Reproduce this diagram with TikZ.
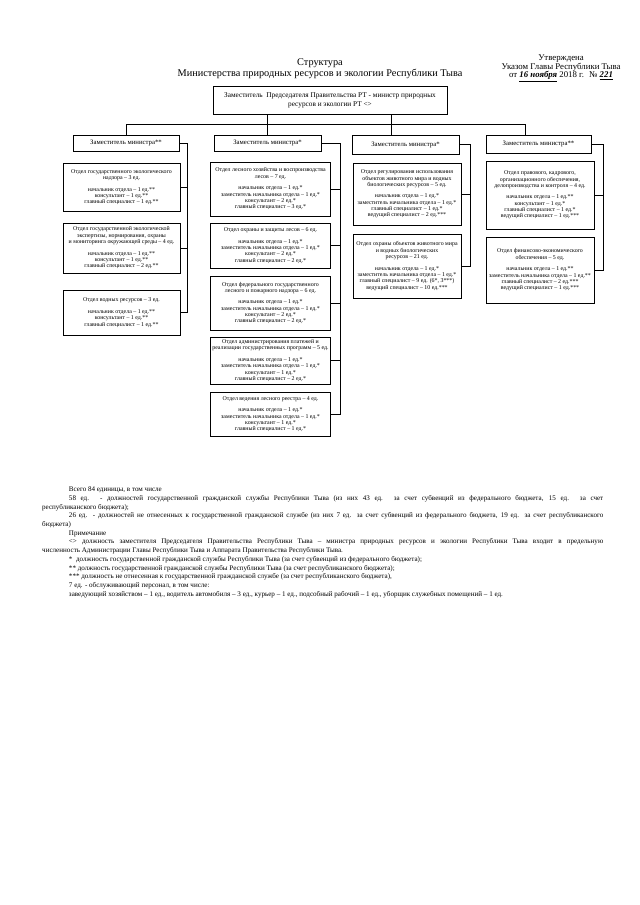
\documentclass[tikz,border=0pt]{standalone}
\usepackage{fontspec}
\setmainfont{Liberation Serif}
\usepackage{tikz}
\usetikzlibrary{positioning}

\begin{document}
\begin{tikzpicture}[
  x=0.328125mm, y=-0.328125mm,
  chief/.style={draw, align=center, font=\fontsize{6.8}{8.4}\selectfont, inner sep=1pt},
  deputy/.style={draw, align=center, font=\fontsize{6.3}{7}\selectfont, inner sep=1pt},
  dept/.style={draw, align=center, font=\fontsize{5.5}{5.9}\selectfont, inner sep=1pt},
  link/.style={line width=0.5pt}
]
\useasboundingbox (0,0) rectangle (640,905);

% --- Heading ---
\node[font=\fontsize{9.6}{10.2}\selectfont, align=center] (title) at (320, 69) {Структура\\Министерства природных ресурсов и экологии Республики Тыва};
\node[font=\fontsize{8.2}{8}\selectfont, align=center] (approved) at (561, 68.5) {Утверждена\\Указом Главы Республики Тыва\\от \underline{\textbf{\textit{16 ноября}}} 2018 г. \ № \underline{\textbf{\textit{221}}}};

% --- Minister ---
\node[chief, minimum width=7.68cm, minimum height=0.92cm] (top) at (330, 100) {Заместитель \ Председателя Правительства РТ - министр природных\\ресурсов и экологии РТ <>};

% --- Deputies ---
\node[deputy, minimum width=3.48cm, minimum height=0.525cm] (h1) at (126, 143) {Заместитель министра**};
\node[deputy, minimum width=3.51cm, minimum height=0.525cm] (h2) at (267.5, 143) {Заместитель министра*};
\node[deputy, minimum width=3.51cm, minimum height=0.62cm] (h3) at (405.5, 144.5) {Заместитель министра*};
\node[deputy, minimum width=3.45cm, minimum height=0.59cm] (h4) at (538.5, 144) {Заместитель министра**};

\coordinate (j3) at (391, 124);
\coordinate (j4) at (525, 124);
\draw[link] (h1.north) -- (h1.north |- j4) -- (j4) -- (h4.north -| j4);
\draw[link] (top.south -| h2.north) -- (h2.north);
\draw[link] (top.south -| j3) -- (h3.north -| j3);

% --- Column 1 ---
\node[dept, minimum width=3.84cm, minimum height=1.575cm] (d11) at (121.5, 187) {Отдел государственного экологического\\надзора – 3 ед.\\[5pt]начальник отдела – 1 ед.**\\консультант – 1 ед.**\\главный специалист – 1 ед.**};
\node[dept, minimum width=3.84cm, minimum height=1.64cm] (d12) at (121.5, 248) {Отдел государственной экологической\\экспертизы, нормирования, охраны\\и мониторинга окружающей среды – 4 ед.\\[5pt]начальник отдела – 1 ед.**\\консультант – 1 ед.**\\главный специалист – 2 ед.**};
\node[dept, minimum width=3.84cm, minimum height=1.48cm] (d13) at (121.5, 312.5) {Отдел водных ресурсов – 3 ед.\\[5pt]начальник отдела – 1 ед.**\\консультант – 1 ед.**\\главный специалист – 1 ед.**};

\coordinate (b1) at (187, 0);
\draw[link] (h1.east) -- (h1.east -| b1) -- (d13.east -| b1) -- (d13.east);
\foreach \d in {d11, d12} \draw[link] (\d.east) -- (\d.east -| b1);

% --- Column 2 ---
\node[dept, minimum width=3.94cm, minimum height=1.77cm] (d21) at (270.5, 189) {Отдел лесного хозяйства и воспроизводства\\лесов – 7 ед.\\[5pt]начальник отдела – 1 ед.*\\заместитель начальника отдела – 1 ед.*\\консультант – 2 ед.*\\главный специалист – 3 ед.*};
\node[dept, minimum width=3.94cm, minimum height=1.48cm] (d22) at (270.5, 245.5) {Отдел охраны и защиты лесов – 6 ед.\\[5pt]начальник отдела – 1 ед.*\\заместитель начальника отдела – 1 ед.*\\консультант – 2 ед.*\\главный специалист – 2 ед.*};
\node[dept, minimum width=3.94cm, minimum height=1.77cm] (d23) at (270.5, 303) {Отдел федерального государственного\\лесного и пожарного надзора – 6 ед.\\[5pt]начальник отдела – 1 ед.*\\заместитель начальника отдела – 1 ед.*\\консультант – 2 ед.*\\главный специалист – 2 ед.*};
\node[dept, minimum width=3.94cm, minimum height=1.54cm] (d24) at (270.5, 360.5) {Отдел администрирования платежей и\\реализации государственных программ – 5 ед.\\[5pt]начальник отдела – 1 ед.*\\заместитель начальника отдела – 1 ед.*\\консультант – 1 ед.*\\главный специалист – 2 ед.*};
\node[dept, minimum width=3.94cm, minimum height=1.44cm] (d25) at (270.5, 414) {Отдел ведения лесного реестра – 4 ед.\\[5pt]начальник отдела – 1 ед.*\\заместитель начальника отдела – 1 ед.*\\консультант – 1 ед.*\\главный специалист – 1 ед.*};

\coordinate (b2) at (340, 0);
\draw[link] (h2.east) -- (h2.east -| b2) -- (d25.east -| b2) -- (d25.east);
\foreach \d in {d21, d22, d23, d24} \draw[link] (\d.east) -- (\d.east -| b2);

% --- Column 3 ---
\node[dept, minimum width=3.54cm, minimum height=2.03cm] (d31) at (407, 194) {Отдел регулирования использования\\объектов животного мира и водных\\биологических ресурсов – 5 ед.\\[5pt]начальник отдела – 1 ед.*\\заместитель начальника отдела – 1 ед.*\\главный специалист – 1 ед.*\\ведущий специалист – 2 ед.***};
\node[dept, minimum width=3.54cm, minimum height=2.10cm] (d32) at (407, 266) {Отдел охраны объектов животного мира\\и водных биологических\\ресурсов – 21 ед.\\[5pt]начальник отдела – 1 ед.*\\заместитель начальника отдела – 1 ед.*\\главный специалист – 9 ед. (6*, 3***)\\ведущий специалист – 10 ед.***};

\coordinate (b3) at (470, 0);
\draw[link] (h3.east) -- (h3.east -| b3) -- (d32.east -| b3) -- (d32.east);
\draw[link] (d31.east) -- (d31.east -| b3);

% --- Column 4 ---
\node[dept, minimum width=3.54cm, minimum height=2.23cm] (d41) at (540, 195) {Отдел правового, кадрового,\\организационного обеспечения,\\делопроизводства и контроля – 4 ед.\\[5pt]начальник отдела – 1 ед.**\\консультант – 1 ед.*\\главный специалист – 1 ед.*\\ведущий специалист – 1 ед.***};
\node[dept, minimum width=3.54cm, minimum height=2.16cm] (d42) at (540, 270) {Отдел финансово-экономического\\обеспечения – 5 ед.\\[5pt]начальник отдела – 1 ед.**\\заместитель начальника отдела – 1 ед.**\\главный специалист – 2 ед.***\\ведущий специалист – 1 ед.***};

\coordinate (b4) at (603, 0);
\draw[link] (h4.east) -- (h4.east -| b4) -- (d42.east -| b4) -- (d42.east);
\draw[link] (d41.east) -- (d41.east -| b4);

% --- Notes ---
\node[anchor=north west, inner sep=0pt, text width=18.41cm, align=justify, font=\fontsize{6.6}{8.1}\selectfont] (notes) at (42, 487) {%
\hspace*{25pt}Всего 84 единицы, в том числе\par
\hspace*{25pt}58 ед. - должностей государственной гражданской службы Республики Тыва (из них 43 ед. за счет субвенций из федерального бюджета, 15 ед. за счет\linebreak республиканского бюджета);\par
\hspace*{25pt}26 ед. - должностей не отнесенных к государственной гражданской службе (из них 7 ед. за счет субвенций из федерального бюджета, 19 ед. за счет республиканского\linebreak бюджета)\par
\hspace*{25pt}Примечание\par
\hspace*{25pt}<> должность заместителя Председателя Правительства Республики Тыва – министра природных ресурсов и экологии Республики Тыва входит в предельную\linebreak численность Администрации Главы Республики Тыва и Аппарата Правительства Республики Тыва.\par
\hspace*{25pt}* \ должность государственной гражданской службы Республики Тыва (за счет субвенций из федерального бюджета);\par
\hspace*{25pt}** должность государственной гражданской службы Республики Тыва (за счет республиканского бюджета);\par
\hspace*{25pt}*** должность не отнесенная к государственной гражданской службе (за счет республиканского бюджета),\par
\hspace*{25pt}7 ед. - обслуживающий персонал, в том числе:\par
\hspace*{25pt}заведующий хозяйством – 1 ед., водитель автомобиля – 3 ед., курьер – 1 ед., подсобный рабочий – 1 ед., уборщик служебных помещений – 1 ед.};

\end{tikzpicture}
\end{document}
